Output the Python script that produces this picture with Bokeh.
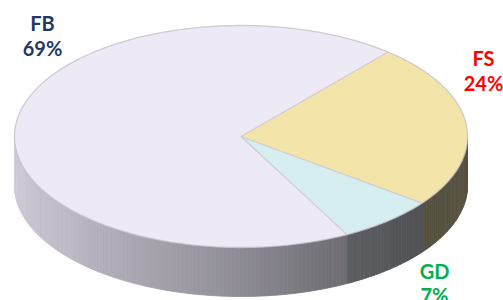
import numpy as np
from bokeh.plotting import figure
from bokeh.models import Range1d, ColumnDataSource
from bokeh.core.properties import value
from bokeh.embed import file_html
from bokeh.resources import INLINE

# ---- data ----
categories = ["FB", "FS", "GD"]
shares = [69, 24, 7]
pct_labels = [f"{v}%" for v in shares]

# ---- styling ----
top_colors = {"FB": "#EDE9F5", "FS": "#F3E5A9", "GD": "#D6EEF0"}
side_rgb = {"FB": (226, 222, 236), "FS": (200, 190, 150), "GD": (188, 192, 200)}
label_colors = {"FB": "#1F3864", "FS": "#FF0000", "GD": "#00B050"}
label_pos = {"FB": (42, 22, 47), "FS": (483, 57, 82), "GD": (434, 270, 294)}
clockwise_order = ["FS", "GD", "FB"]

CX, CY, A, B, D = 240.5, 136.0, 226.5, 111.0, 49.0
START = 49.5


def pt(tdeg, dy=0.0):
    t = np.radians(tdeg)
    return CX + A * np.cos(t), CY - B * np.sin(t) + dy


def shade(tdeg):
    tt = np.mod(tdeg, 360.0)
    return np.interp(tt, [180, 220, 260, 290, 320, 360],
                     [0.93, 0.84, 0.68, 0.52, 0.43, 0.44])


share_of = dict(zip(categories, shares))
ranges = {}
cur = START
for c in clockwise_order:
    a1 = cur - share_of[c] * 3.6
    ranges[c] = (cur, a1)
    cur = a1

p = figure(width=503, height=300, x_range=Range1d(0, 503), y_range=Range1d(300, 0),
           output_backend="svg", toolbar_location=None, min_border=0,
           background_fill_color="white", border_fill_color="white")
p.axis.visible = False
p.grid.visible = False
p.outline_line_color = None

# ---- side (front half) ----
xs, ys, cols = [], [], []
for c in clockwise_order:
    hi, lo = ranges[c]
    s_hi, s_lo = min(hi, 0.0), max(lo, -180.0)
    if s_hi <= s_lo:
        continue
    n = max(2, int((s_hi - s_lo) / 1.0) + 1)
    ts = np.linspace(s_hi, s_lo, n)
    for t0, t1 in zip(ts[:-1], ts[1:]):
        x0, y0 = pt(t0)
        x1, y1 = pt(t1)
        xs.append([x0, x1, x1, x0])
        ys.append([y0, y1, y1 + D, y0 + D])
        f = shade((t0 + t1) / 2)
        r, g, b = side_rgb[c]
        cols.append("#%02x%02x%02x" % (int(r * f), int(g * f), int(b * f)))
p.patches(xs=xs, ys=ys, fill_color=cols, line_color=cols, line_width=0.8)

# ---- top face ----
txs, tys, tcols = [], [], []
for c in clockwise_order:
    hi, lo = ranges[c]
    ts = np.linspace(hi, lo, 200)
    ex, ey = pt(ts)
    txs.append([CX] + list(ex) + [CX])
    tys.append([CY] + list(ey) + [CY])
    tcols.append(top_colors[c])
p.patches(xs=txs, ys=tys, fill_color=tcols, line_color=None)

# ellipse outline
et = np.linspace(0, 360, 361)
ex, ey = pt(et)
p.line(ex, ey, line_color="#C4C0CC", line_width=1.3, line_alpha=0.8)

# slice separators
bx, by = [], []
for c in clockwise_order:
    x, y = pt(ranges[c][0])
    bx.append(x)
    by.append(y)
p.segment(x0=[CX] * len(bx), y0=[CY] * len(by), x1=bx, y1=by,
          line_color="#CCC8D2", line_width=1.2, line_alpha=0.9)

# ---- labels ----
lx, ly, lt, lc = [], [], [], []
for c, pl in zip(categories, pct_labels):
    x, y1, y2 = label_pos[c]
    lx += [x, x]
    ly += [y1, y2]
    lt += [c, pl]
    lc += [label_colors[c]] * 2
src = ColumnDataSource(dict(x=lx, y=ly, text=lt, color=lc))
p.text(x="x", y="y", text="text", text_color="color", source=src,
       text_font=value("Lato"), text_font_style="bold", text_font_size="20px",
       text_align="center", text_baseline="middle")

open("out.html", "w").write(file_html(p, INLINE))
